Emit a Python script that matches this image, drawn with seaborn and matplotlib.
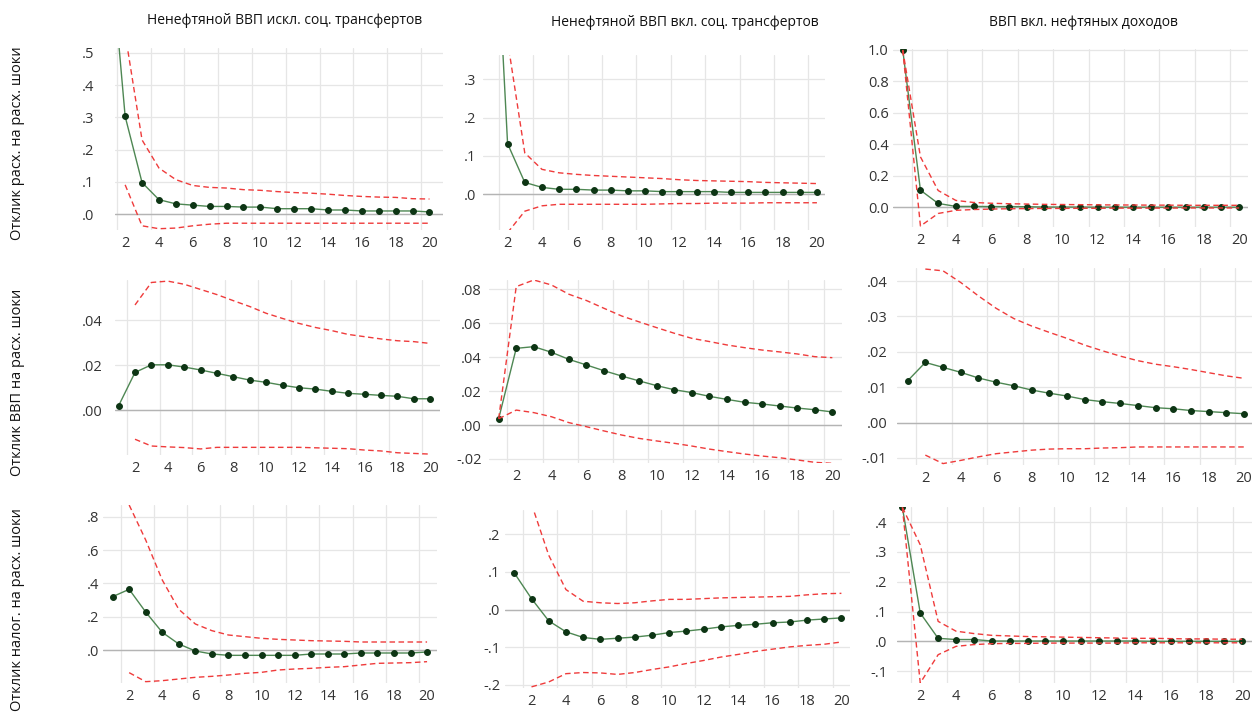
import numpy as np
import pandas as pd
import matplotlib
matplotlib.use("Agg")
import matplotlib.pyplot as plt
import seaborn as sns

nan = np.nan
periods = list(range(1, 21))

# Заголовки столбцов и подписи строк
col_titles = ["Ненефтяной ВВП искл. соц. трансфертов",
              "Ненефтяной ВВП вкл. соц. трансфертов",
              "ВВП вкл. нефтяных доходов"]
row_titles = ["Отклик расх. на расх. шоки",
              "Отклик ВВП на расх. шоки",
              "Отклик налог. на расх. шоки"]

# Отклик расходов
exp1_resp = [0.90, 0.303, 0.098, 0.045, 0.032, 0.028, 0.024, 0.024, 0.022, 0.022,
             0.017, 0.017, 0.017, 0.013, 0.013, 0.010, 0.010, 0.010, 0.010, 0.007]
exp1_up = [nan, 0.56, 0.23, 0.143, 0.107, 0.089, 0.083, 0.081, 0.076, 0.074,
           0.070, 0.067, 0.065, 0.062, 0.058, 0.055, 0.053, 0.052, 0.048, 0.047]
exp1_lo = [nan, 0.091, -0.036, -0.045, -0.043, -0.036, -0.031, -0.028, -0.028, -0.028,
           -0.028, -0.028, -0.028, -0.028, -0.028, -0.028, -0.028, -0.028, -0.028, -0.028]

exp2_resp = [1.0, 0.132, 0.031, 0.018, 0.013, 0.013, 0.011, 0.011, 0.009, 0.009,
             0.007, 0.007, 0.007, 0.007, 0.005, 0.005, 0.005, 0.005, 0.005, 0.005]
exp2_up = [nan, 0.40, 0.108, 0.065, 0.056, 0.052, 0.049, 0.047, 0.045, 0.043,
           0.041, 0.038, 0.036, 0.035, 0.034, 0.033, 0.031, 0.030, 0.029, 0.028]
exp2_lo = [nan, -0.10, -0.044, -0.030, -0.026, -0.026, -0.026, -0.026, -0.026, -0.026,
           -0.025, -0.024, -0.024, -0.023, -0.023, -0.023, -0.022, -0.022, -0.022, -0.022]

exp3_resp = [1.0, 0.108, 0.024, 0.005, 0.005, 0.004, 0.004, 0.003, 0.001, 0.001,
             0.001, 0.0, 0.0, 0.0, 0.0, 0.0, 0.0, 0.0, 0.0, 0.0]
exp3_up = [1.0, 0.32, 0.106, 0.043, 0.030, 0.025, 0.022, 0.020, 0.018, 0.017,
           0.016, 0.015, 0.014, 0.014, 0.013, 0.013, 0.012, 0.012, 0.012, 0.012]
exp3_lo = [1.0, -0.12, -0.040, -0.020, -0.015, -0.012, -0.010, -0.009, -0.008, -0.008,
           -0.007, -0.007, -0.006, -0.006, -0.006, -0.006, -0.005, -0.005, -0.005, -0.005]

# Отклик ВВП
gdp1_resp = [0.0019, 0.0167, 0.0201, 0.0201, 0.0191, 0.0178, 0.0163, 0.0148, 0.0133, 0.0123,
             0.0110, 0.0099, 0.0093, 0.0083, 0.0074, 0.0070, 0.0065, 0.0061, 0.0050, 0.0050]
gdp1_up = [nan, 0.0467, 0.0567, 0.0573, 0.0559, 0.0536, 0.0513, 0.0486, 0.0460, 0.0430,
           0.0407, 0.0385, 0.0367, 0.0353, 0.0336, 0.0326, 0.0316, 0.0308, 0.0304, 0.0296]
gdp1_lo = [nan, -0.0130, -0.0160, -0.0164, -0.0167, -0.0173, -0.0166, -0.0166, -0.0166, -0.0166,
           -0.0166, -0.0166, -0.0168, -0.0170, -0.0172, -0.0178, -0.0182, -0.0190, -0.0193, -0.0196]

gdp2_resp = [0.0037, 0.0452, 0.0462, 0.0429, 0.0387, 0.0354, 0.0320, 0.0289, 0.0260, 0.0232,
             0.0208, 0.0191, 0.0169, 0.0151, 0.0134, 0.0124, 0.0112, 0.0100, 0.0090, 0.0077]
gdp2_up = [0.0037, 0.0816, 0.0855, 0.0826, 0.0771, 0.0734, 0.0688, 0.0643, 0.0608, 0.0574,
           0.0541, 0.0511, 0.0492, 0.0472, 0.0456, 0.0442, 0.0431, 0.0419, 0.0403, 0.0397]
gdp2_lo = [0.0037, 0.0088, 0.0073, 0.0049, 0.0014, -0.0010, -0.0035, -0.0059, -0.0079, -0.0094,
           -0.0108, -0.0124, -0.0142, -0.0157, -0.0171, -0.0183, -0.0193, -0.0206, -0.0220, -0.0226]

gdp3_resp = [0.0118, 0.0170, 0.0156, 0.0142, 0.0126, 0.0114, 0.0104, 0.0092, 0.0083, 0.0075,
             0.0065, 0.0059, 0.0054, 0.0048, 0.0042, 0.0039, 0.0034, 0.0031, 0.0028, 0.0025]
gdp3_up = [nan, 0.0434, 0.0429, 0.0396, 0.0358, 0.0323, 0.0294, 0.0273, 0.0255, 0.0238,
           0.0219, 0.0203, 0.0188, 0.0175, 0.0165, 0.0158, 0.0150, 0.0141, 0.0132, 0.0125]
gdp3_lo = [nan, -0.0092, -0.0116, -0.0107, -0.0097, -0.0088, -0.0083, -0.0078, -0.0075, -0.0074,
           -0.0074, -0.0072, -0.0071, -0.0069, -0.0069, -0.0069, -0.0069, -0.0069, -0.0069, -0.0069]

# Отклик налогов
tax1_resp = [0.320, 0.364, 0.228, 0.106, 0.036, -0.006, -0.024, -0.032, -0.032, -0.032,
             -0.032, -0.032, -0.024, -0.024, -0.024, -0.018, -0.018, -0.018, -0.018, -0.012]
tax1_up = [nan, 0.87, 0.66, 0.42, 0.244, 0.156, 0.116, 0.090, 0.080, 0.070,
           0.064, 0.060, 0.056, 0.054, 0.052, 0.048, 0.048, 0.048, 0.048, 0.048]
tax1_lo = [nan, -0.136, -0.190, -0.184, -0.174, -0.164, -0.158, -0.150, -0.140, -0.134,
           -0.120, -0.114, -0.110, -0.104, -0.100, -0.090, -0.080, -0.078, -0.076, -0.070]

tax2_resp = [0.097, 0.029, -0.030, -0.059, -0.074, -0.079, -0.076, -0.073, -0.068, -0.061,
             -0.057, -0.052, -0.046, -0.042, -0.039, -0.035, -0.033, -0.028, -0.025, -0.022]
tax2_up = [nan, 0.28, 0.144, 0.053, 0.022, 0.018, 0.016, 0.018, 0.023, 0.027,
           0.027, 0.029, 0.031, 0.032, 0.033, 0.034, 0.035, 0.039, 0.042, 0.043]
tax2_lo = [nan, -0.205, -0.192, -0.170, -0.167, -0.168, -0.172, -0.167, -0.159, -0.152,
           -0.143, -0.135, -0.126, -0.119, -0.111, -0.105, -0.099, -0.095, -0.092, -0.086]

tax3_resp = [0.450, 0.095, 0.010, 0.006, 0.006, 0.001, 0.001, 0.001, 0.001, 0.001,
             0.001, 0.001, 0.001, 0.001, 0.0, 0.0, 0.0, 0.0, 0.0, 0.0]
tax3_up = [0.450, 0.324, 0.067, 0.034, 0.026, 0.020, 0.018, 0.016, 0.015, 0.014,
           0.013, 0.012, 0.011, 0.010, 0.010, 0.009, 0.008, 0.008, 0.007, 0.007]
tax3_lo = [0.450, -0.140, -0.045, -0.017, -0.011, -0.008, -0.007, -0.007, -0.006, -0.006,
           -0.006, -0.006, -0.006, -0.005, -0.005, -0.005, -0.005, -0.005, -0.005, -0.005]

# Подписи оси Y в стиле EViews
yt_exp1 = [0, 0.1, 0.2, 0.3, 0.4, 0.5]
yl_exp1 = [".0", ".1", ".2", ".3", ".4", ".5"]
yt_exp2 = [0, 0.1, 0.2, 0.3]
yl_exp2 = [".0", ".1", ".2", ".3"]
yt_exp3 = [0, 0.2, 0.4, 0.6, 0.8, 1.0]
yl_exp3 = ["0.0", "0.2", "0.4", "0.6", "0.8", "1.0"]
yt_gdp1 = [0, 0.02, 0.04]
yl_gdp1 = [".00", ".02", ".04"]
yt_gdp2 = [-0.02, 0, 0.02, 0.04, 0.06, 0.08]
yl_gdp2 = ["-.02", ".00", ".02", ".04", ".06", ".08"]
yt_gdp3 = [-0.01, 0, 0.01, 0.02, 0.03, 0.04]
yl_gdp3 = ["-.01", ".00", ".01", ".02", ".03", ".04"]
yt_tax1 = [0, 0.2, 0.4, 0.6, 0.8]
yl_tax1 = [".0", ".2", ".4", ".6", ".8"]
yt_tax2 = [-0.2, -0.1, 0, 0.1, 0.2]
yl_tax2 = ["-.2", "-.1", ".0", ".1", ".2"]
yt_tax3 = [-0.1, 0, 0.1, 0.2, 0.3, 0.4]
yl_tax3 = ["-.1", ".0", ".1", ".2", ".3", ".4"]

panels = [
    (exp1_resp, exp1_up, exp1_lo, yt_exp1, yl_exp1),
    (exp2_resp, exp2_up, exp2_lo, yt_exp2, yl_exp2),
    (exp3_resp, exp3_up, exp3_lo, yt_exp3, yl_exp3),
    (gdp1_resp, gdp1_up, gdp1_lo, yt_gdp1, yl_gdp1),
    (gdp2_resp, gdp2_up, gdp2_lo, yt_gdp2, yl_gdp2),
    (gdp3_resp, gdp3_up, gdp3_lo, yt_gdp3, yl_gdp3),
    (tax1_resp, tax1_up, tax1_lo, yt_tax1, yl_tax1),
    (tax2_resp, tax2_up, tax2_lo, yt_tax2, yl_tax2),
    (tax3_resp, tax3_up, tax3_lo, yt_tax3, yl_tax3),
]

# Размещение (пиксели: лево, верх, право, низ), пределы осей, отступ подписей Y
layout = [
    ((115, 48, 443, 230), (1.4, 20.8), (-0.049, 0.515), 15),
    ((483, 55, 825, 230), (0.57, 20.47), (-0.093, 0.363), 5),
    ((893, 49, 1248, 227), (0.45, 20.5), (-0.126, 1.006), 3),
    ((115, 280, 440, 455), (0.78, 20.6), (-0.020, 0.0578), 9),
    ((489, 280, 842, 463), (0.45, 20.55), (-0.0224, 0.0855), 5),
    ((897, 268, 1252, 465), (0.4, 20.45), (-0.012, 0.0437), 7),
    ((103, 505, 437, 683), (0.42, 20.6), (-0.198, 0.87), 3),
    ((505, 510, 850, 688), (0.46, 20.5), (-0.208, 0.264), 3.5),
    ((897, 507, 1252, 683), (0.7, 20.55), (-0.14, 0.451), 7),
]

sns.set_style("whitegrid")
plt.rcParams['font.family'] = ['Open Sans', 'DejaVu Sans']

W, H = 1259, 720
fig = plt.figure(figsize=(W / 100, H / 100), dpi=100)

line_col = "#4e8753"
dot_col = "#0d3514"
band_col = "#ef3b3b"

for (resp, up, lo, yt, yl), (box, xl, ylim, ypad) in zip(panels, layout):
    l, t, r, b = box
    ax = fig.add_axes([l / W, 1 - b / H, (r - l) / W, (b - t) / H])
    df = pd.DataFrame({"period": periods, "resp": resp, "up": up, "lo": lo})
    sns.lineplot(data=df, x="period", y="resp", ax=ax, color=line_col, lw=1.0,
                 marker="o", markersize=4.2, markerfacecolor=dot_col,
                 markeredgecolor=dot_col, zorder=3)
    for col in ["up", "lo"]:
        sns.lineplot(data=df, x="period", y=col, ax=ax, color=band_col, lw=1.0,
                     linestyle=(0, (4, 2.5)), zorder=4)
    ax.axhline(0, color="#b4b4b4", lw=1.0, zorder=1)
    ax.set_xlim(*xl)
    ax.set_ylim(*ylim)
    ax.set_xticks(range(2, 21, 2))
    ax.set_xticks(np.arange(1.5, 20.5, 2), minor=True)
    ax.set_yticks(yt)
    ax.set_yticklabels(yl)
    ax.grid(False)
    ax.grid(True, axis="y", which="major", color="#e6e6e6", lw=0.9)
    ax.grid(True, axis="x", which="minor", color="#e6e6e6", lw=0.9)
    ax.tick_params(axis="x", which="both", length=0, labelsize=10.5, pad=4, colors="#333333")
    ax.tick_params(axis="y", length=0, labelsize=10.5, pad=ypad, colors="#333333")
    ax.set_xlabel("")
    ax.set_ylabel("")
    for s in ax.spines.values():
        s.set_visible(False)

title_pos = [(285, 20), (685, 22), (1083, 23)]
for txt, (x, y) in zip(col_titles, title_pos):
    fig.text(x / W, 1 - y / H, txt, ha="center", va="center", fontsize=10, color="#111111")

row_pos = [143, 382, 610]
for txt, y in zip(row_titles, row_pos):
    fig.text(18 / W, 1 - y / H, txt, ha="center", va="center", rotation=90,
             fontsize=10.5, color="#111111")

fig.savefig("out.png", dpi=100)
